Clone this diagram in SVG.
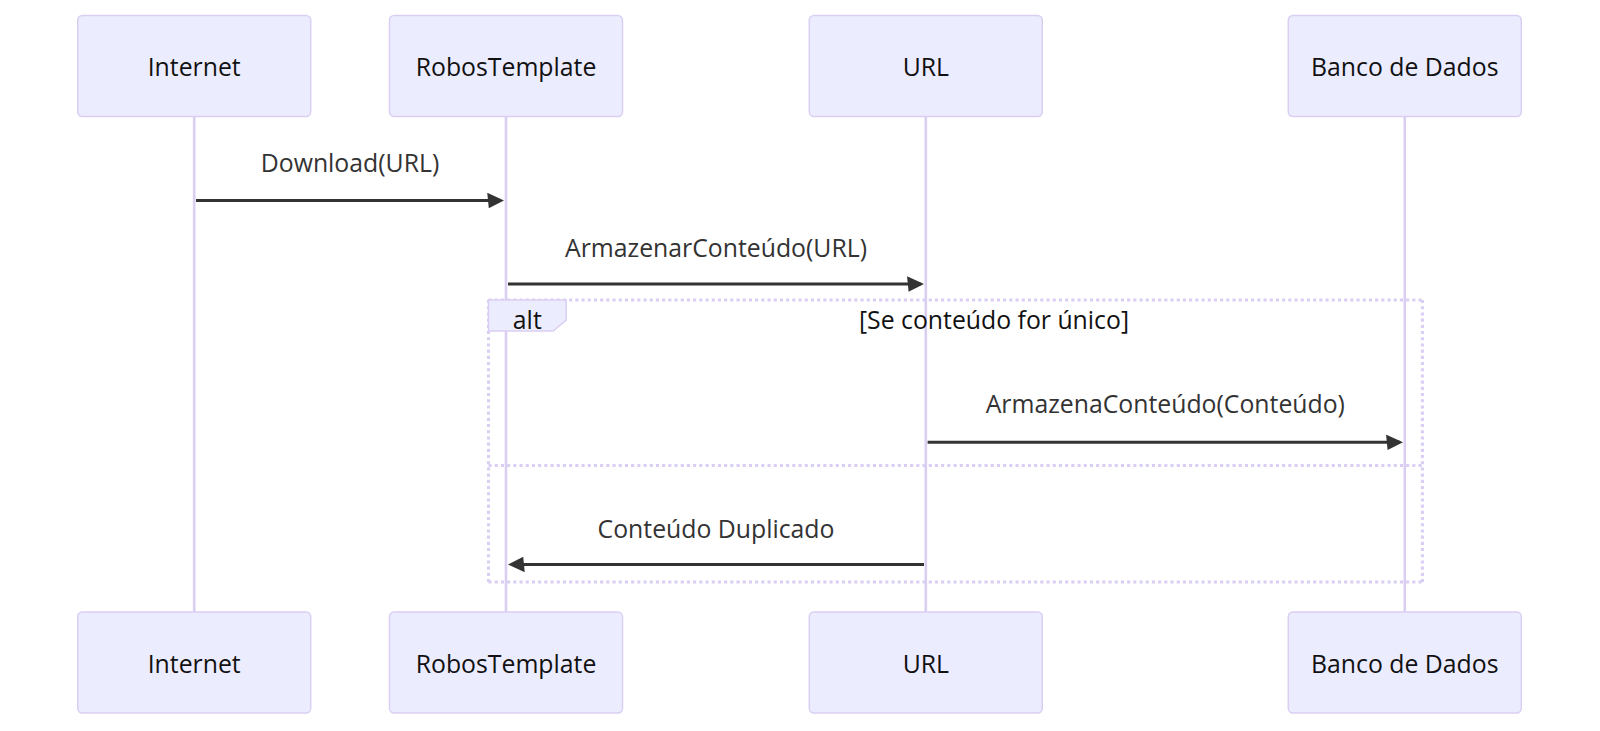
<svg xmlns="http://www.w3.org/2000/svg" width="1600" height="731" viewBox="0 0 1600 731">
<style>
  .actor { fill: #ECECFF; stroke: #DACEF3; stroke-width: 1.5; }
  .actor-text { font-family: "Open Sans", "Noto Sans", sans-serif; font-size: 24.8px; fill: #111; text-anchor: middle; dominant-baseline: central; }
  .lifeline { stroke: #DACEF3; stroke-width: 2.6; }
  .msg { stroke: #333; stroke-width: 3.1; fill: none; }
  .msg-text { font-family: "Open Sans", "Noto Sans", sans-serif; font-size: 24.8px; fill: #333; text-anchor: middle; dominant-baseline: central; }
  .loop-line { stroke: #DACEF3; stroke-width: 3.1; stroke-dasharray: 3.1 3.1; fill: none; }
  .label-box { fill: #ECECFF; stroke: #DACEF3; stroke-width: 1.5; }
  .loop-text { font-family: "Open Sans", "Noto Sans", sans-serif; font-size: 24.8px; fill: #111; text-anchor: middle; dominant-baseline: central; }
</style>
<defs>
  <marker id="arrowhead" viewBox="-1 0 11 10" refX="7.9" refY="5" markerUnits="userSpaceOnUse" markerWidth="17" markerHeight="15.5" orient="auto">
    <path d="M -1 0 L 10 5 L 0 10 z" fill="#333"/>
  </marker>
</defs>
<rect width="1600" height="731" fill="#ffffff"/>

<g id="lifelines">
  <line class="lifeline" x1="194.2" y1="116.5" x2="194.2" y2="612"/>
  <line class="lifeline" x1="506" y1="116.5" x2="506" y2="612"/>
  <line class="lifeline" x1="925.8" y1="116.5" x2="925.8" y2="612"/>
  <line class="lifeline" x1="1404.8" y1="116.5" x2="1404.8" y2="612"/>
</g>

<g id="actor-internet-top">
  <rect class="actor" x="77.7" y="15.5" width="233" height="101" rx="4.7"/>
  <text class="actor-text" x="194.2" y="66">Internet</text>
</g>
<g id="actor-robos-top">
  <rect class="actor" x="389.5" y="15.5" width="233" height="101" rx="4.7"/>
  <text class="actor-text" x="506" y="66">RobosTemplate</text>
</g>
<g id="actor-url-top">
  <rect class="actor" x="809.3" y="15.5" width="233" height="101" rx="4.7"/>
  <text class="actor-text" x="925.8" y="66">URL</text>
</g>
<g id="actor-banco-top">
  <rect class="actor" x="1288.3" y="15.5" width="233" height="101" rx="4.7"/>
  <text class="actor-text" x="1404.8" y="66">Banco de Dados</text>
</g>

<g id="alt-block">
  <line class="loop-line" x1="488.5" y1="300" x2="1422.4" y2="300"/>
  <line class="loop-line" x1="1422.4" y1="300" x2="1422.4" y2="582"/>
  <line class="loop-line" x1="488.5" y1="582" x2="1422.4" y2="582"/>
  <line class="loop-line" x1="488.5" y1="300" x2="488.5" y2="582"/>
  <line class="loop-line" x1="488.5" y1="465.5" x2="1422.4" y2="465.5"/>
  <polygon class="label-box" points="488.5,300 566.2,300 566.2,320.2 553.2,331 488.5,331"/>
  <text class="loop-text" x="527.3" y="319">alt</text>
  <text class="loop-text" x="994" y="319">[Se conteúdo for único]</text>
</g>

<g id="connectors">
  <line class="msg" x1="196" y1="200.5" x2="501" y2="200.5" marker-end="url(#arrowhead)"/>
  <text class="msg-text" x="350" y="162">Download(URL)</text>
  <line class="msg" x1="508" y1="284" x2="920.8" y2="284" marker-end="url(#arrowhead)"/>
  <text class="msg-text" x="716" y="246.5">ArmazenarConteúdo(URL)</text>
  <line class="msg" x1="927.6" y1="442.3" x2="1399.8" y2="442.3" marker-end="url(#arrowhead)"/>
  <text class="msg-text" x="1165.3" y="403">ArmazenaConteúdo(Conteúdo)</text>
  <line class="msg" x1="924" y1="564.5" x2="511" y2="564.5" marker-end="url(#arrowhead)"/>
  <text class="msg-text" x="716" y="527.5">Conteúdo Duplicado</text>
</g>

<g id="actor-internet-bottom">
  <rect class="actor" x="77.7" y="612" width="233" height="101" rx="4.7"/>
  <text class="actor-text" x="194.2" y="662.5">Internet</text>
</g>
<g id="actor-robos-bottom">
  <rect class="actor" x="389.5" y="612" width="233" height="101" rx="4.7"/>
  <text class="actor-text" x="506" y="662.5">RobosTemplate</text>
</g>
<g id="actor-url-bottom">
  <rect class="actor" x="809.3" y="612" width="233" height="101" rx="4.7"/>
  <text class="actor-text" x="925.8" y="662.5">URL</text>
</g>
<g id="actor-banco-bottom">
  <rect class="actor" x="1288.3" y="612" width="233" height="101" rx="4.7"/>
  <text class="actor-text" x="1404.8" y="662.5">Banco de Dados</text>
</g>
</svg>
